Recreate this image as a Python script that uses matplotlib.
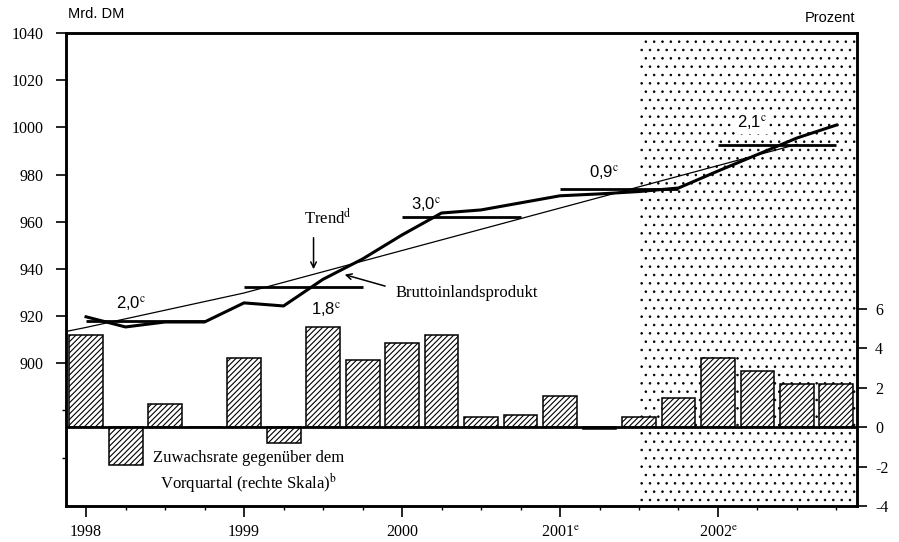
import matplotlib
matplotlib.use("Agg")
import matplotlib.pyplot as plt
from matplotlib.ticker import FixedLocator

plt.rcParams["font.family"] = ["Liberation Serif", "DejaVu Serif"]
plt.rcParams["mathtext.fontset"] = "stix"

# quarters 1998 Q1 .. 2002 Q4 (decimal year)
quarters = [1998 + i * 0.25 for i in range(20)]

# Bruttoinlandsprodukt, Mrd. DM (left scale)
bip = [919.7, 915.4, 917.5, 917.5,
       925.6, 924.3, 935.6, 944.2,
       954.4, 963.7, 965.0, 968.0,
       971.0, 971.8, 972.8, 974.3,
       981.5, 988.5, 995.5, 1001.0]

# Trend (left scale)
trend_x = [1997.875, 1998.0, 1998.5, 1999.0, 1999.5, 2000.0, 2000.5,
           2001.0, 2001.5, 2002.0, 2002.5]
trend_y = [913.5, 915.2, 922.5, 929.8, 938.8, 947.8, 956.8,
           965.8, 974.8, 983.8, 992.8]

# annual averages (horizontal bars) and growth labels
years = [1998, 1999, 2000, 2001, 2002]
year_avg = [918.0, 932.4, 962.2, 973.8, 992.5]
year_growth = ["2,0", "1,8", "3,0", "0,9", "2,1"]
growth_pos = [(1998.285, 925.2), (1999.52, 922.6), (2000.15, 967.1),
              (2001.28, 980.7), (2002.215, 1001.9)]

# Zuwachsrate gegenueber Vorquartal, % (right scale)
rate = [4.7, -1.9, 1.2, 0.0,
        3.5, -0.8, 5.1, 3.4,
        4.25, 4.7, 0.5, 0.6,
        1.6, -0.1, 0.5, 1.5,
        3.5, 2.85, 2.2, 2.2]

year_labels = ["1998", "1999", "2000", r"2001$^{\mathrm{e}}$", r"2002$^{\mathrm{e}}$"]
forecast_start = 2001.5

fig = plt.figure(figsize=(8.99, 5.42), dpi=100)
ax2 = fig.add_axes([0.0734, 0.0664, 0.8799, 0.8727])
ax = ax2.twinx()
ax.set_zorder(ax2.get_zorder() + 1)
ax.patch.set_visible(False)

# percent axis on the right: bars + shading
plt.rcParams["hatch.linewidth"] = 0.6
ax2.axvspan(forecast_start, 2003, facecolor="white", edgecolor="black",
            hatch="..", lw=0, zorder=0)
plt.rcParams["hatch.linewidth"] = 0.8
ax2.bar(quarters, rate, width=0.215, facecolor="white", edgecolor="black",
        hatch="//////", lw=1.1, zorder=2)
ax2.axhline(0, color="black", lw=2, zorder=3)
ax2.set_ylim(-4, 20)
ax2.set_xlim(1997.873, 2002.88)
ax2.yaxis.tick_right()
ax2.set_yticks([-4, -2, 0, 2, 4, 6])
ax2.set_yticklabels(["-4", "-2", "0", "2", "4", "6"])
ax2.tick_params(axis="y", direction="out", length=7, width=1.2, pad=6,
                labelsize=11.5)
ax2.set_xticks(years)
ax2.set_xticklabels(year_labels)
ax2.xaxis.set_minor_locator(FixedLocator(quarters))
ax2.tick_params(axis="x", which="major", direction="out", length=8, width=1.2,
                pad=5, labelsize=11.5)
ax2.tick_params(axis="x", which="minor", direction="out", length=3, width=1)
for s in ax2.spines.values():
    s.set_linewidth(1.8)

# DM axis on the left: lines
ax.plot(trend_x, trend_y, color="black", lw=0.9, zorder=2)
ax.plot(quarters, bip, color="black", lw=2.2, zorder=3)
for yr, avg in zip(years, year_avg):
    ax.hlines(avg, yr, yr + 0.75, color="black", lw=2, zorder=3)
for g, (gx, gy) in zip(year_growth, growth_pos):
    ax.text(gx, gy, g + r"$^{\mathrm{c}}$", ha="center", va="center",
            fontsize=12, family=["Liberation Sans", "DejaVu Sans"], zorder=1,
            bbox=dict(facecolor="white", edgecolor="none", pad=1.5))

ax.annotate("", xy=(1999.44, 938.7), xytext=(1999.44, 954.4),
            arrowprops=dict(arrowstyle="->", color="black", lw=1.1))
ax.text(1999.53, 961.6, r"Trend$^{\mathrm{d}}$", ha="center", va="center",
        fontsize=12)
ax.annotate("", xy=(1999.62, 937.9), xytext=(1999.91, 932.4),
            arrowprops=dict(arrowstyle="->", color="black", lw=1.1))
ax.text(1999.96, 929.8, "Bruttoinlandsprodukt", ha="left", va="center",
        fontsize=12)
ax2.text(1999.03, -2.3, "Zuwachsrate gegenüber dem\n"
         r"Vorquartal (rechte Skala)$^{\mathrm{b}}$",
         ha="center", va="center", fontsize=12, linespacing=1.25, zorder=4)

ax.set_ylim(839.5, 1040)
ax.yaxis.tick_left()
ax.set_yticks(range(900, 1041, 20))
ax.yaxis.set_minor_locator(FixedLocator([860, 880]))
ax.tick_params(axis="y", which="major", direction="out", length=7, width=1.2,
               pad=9, labelsize=11.5)
ax.tick_params(axis="y", which="minor", direction="out", length=3, width=1)
for s in ax.spines.values():
    s.set_linewidth(1.8)

fig.text(68 / 899, 1 - 14 / 542, "Mrd. DM", ha="left", va="center",
         fontsize=10.5, family=["Liberation Sans", "DejaVu Sans"])
fig.text(855 / 899, 1 - 18 / 542, "Prozent", ha="right", va="center",
         fontsize=10.5, family=["Liberation Sans", "DejaVu Sans"])

fig.savefig("out.png", dpi=100)
